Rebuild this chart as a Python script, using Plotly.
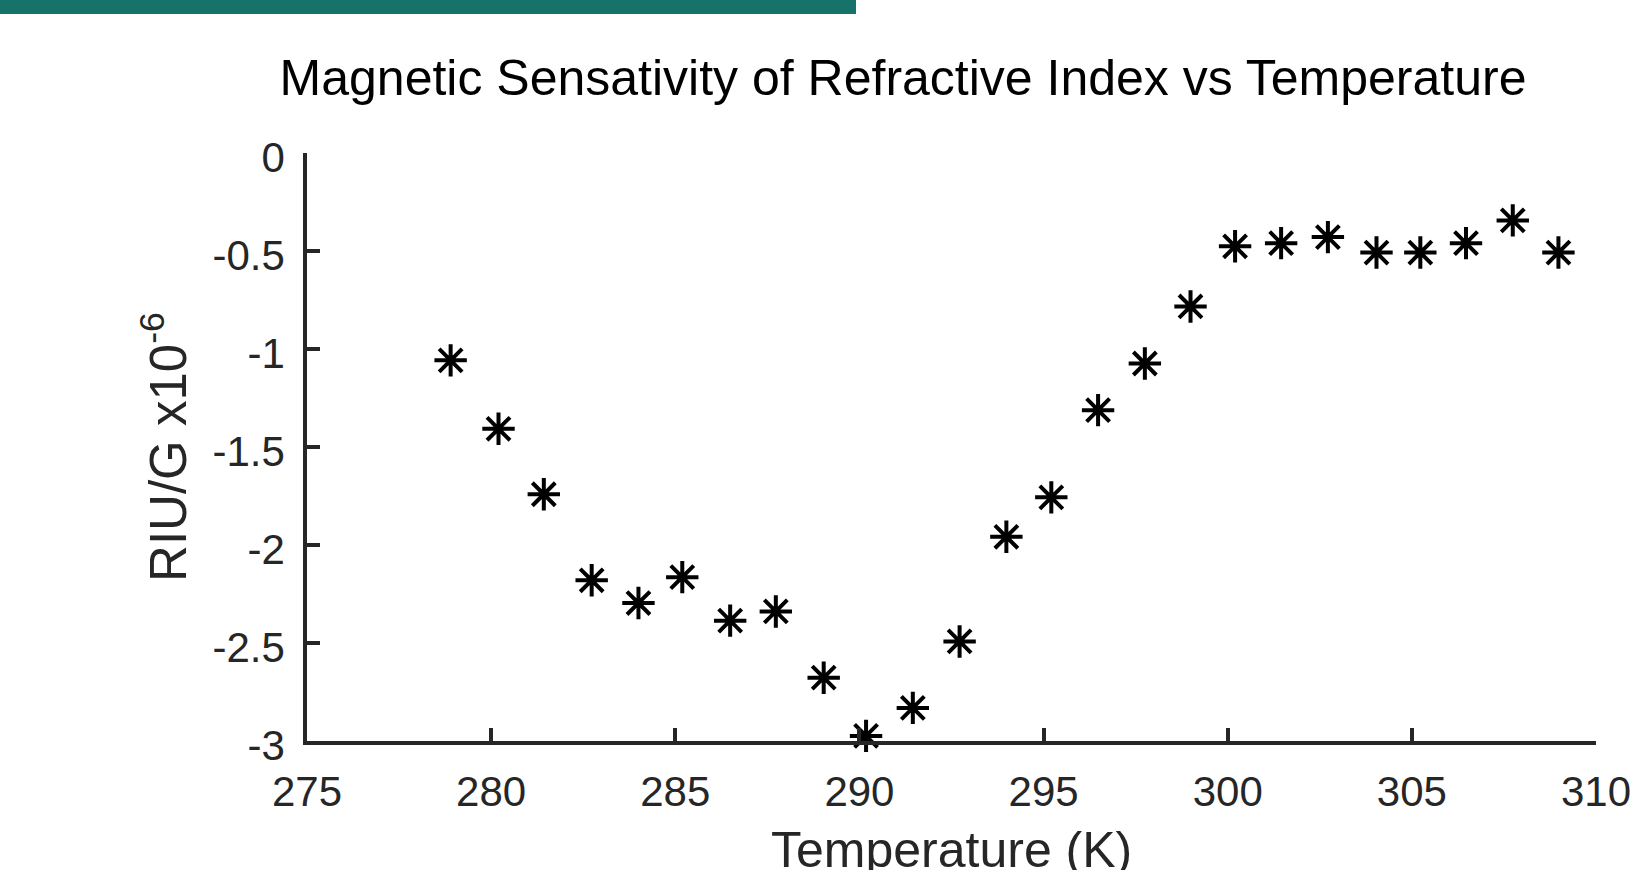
import plotly.graph_objects as go

# Data
temperature_K = [278.9, 280.2, 281.43, 282.73, 284.0, 285.19, 286.49, 287.73, 289.03, 290.18,
                 291.45, 292.72, 293.99, 295.21, 296.48, 297.75, 298.99, 300.2, 301.45, 302.72,
                 304.04, 305.23, 306.47, 307.74, 308.98]
sensitivity = [-1.058, -1.407, -1.741, -2.18, -2.296, -2.164, -2.386, -2.339, -2.677, -2.974,
               -2.831, -2.492, -1.958, -1.757, -1.312, -1.074, -0.783, -0.476, -0.460, -0.429,
               -0.508, -0.508, -0.460, -0.344, -0.508]

x_ticks = [275, 280, 285, 290, 295, 300, 305, 310]
y_ticks = [0, -0.5, -1, -1.5, -2, -2.5, -3]
y_tick_labels = ["0", "-0.5", "-1", "-1.5", "-2", "-2.5", "-3"]

title_text = "Magnetic Sensativity of Refractive Index vs Temperature"
x_title = "Temperature (K)"
y_title = "RIU/G x10<sup>-6</sup>"

FONT = "Liberation Sans, Arial, Helvetica, sans-serif"
AX = "#262626"

W, H = 1633, 870
L, R, T, B = 307, 37, 153, 129

fig = go.Figure()
fig.add_trace(go.Scatter(
    x=temperature_K, y=sensitivity, mode="markers",
    marker=dict(symbol="asterisk-open", size=27, color="black",
                line=dict(color="black", width=4)),
    cliponaxis=False, showlegend=False, hoverinfo="x+y",
))

pw = W - L - R
ph = H - T - B
fig.add_shape(type="rect", xref="paper", yref="paper",
              x0=(0 - L) / pw, x1=(856 - L) / pw,
              y0=(H - B - 14) / ph, y1=(H - B + 2) / ph,
              fillcolor="#16736A", line=dict(width=0), layer="above")

# x-axis title as an annotation so it can sit partly below the page edge, as in the reference
fig.add_annotation(text=x_title, xref="paper", yref="paper", x=0.5, y=-(820 - (H - B)) / ph,
                   xanchor="center", yanchor="top", showarrow=False,
                   font=dict(family=FONT, size=50, color=AX))

fig.update_layout(
    width=W, height=H,
    margin=dict(l=L, r=R, t=T, b=B, autoexpand=False),
    paper_bgcolor="white", plot_bgcolor="white",
    font=dict(family=FONT, color=AX),
    title=dict(text=title_text, font=dict(family=FONT, size=50, color="black"),
               x=903 / W, xanchor="center", xref="container",
               y=1 - 77 / H, yanchor="middle", yref="container"),
    xaxis=dict(range=[275, 310], tickvals=x_ticks, ticktext=[str(v) for v in x_ticks],
               showgrid=False, zeroline=False, showline=True, linecolor=AX, linewidth=3.5,
               ticks="inside", ticklen=13, tickwidth=3.5, tickcolor=AX,
               tickfont=dict(family=FONT, size=42, color=AX),
               ticklabelstandoff=11,
               automargin=False),
    yaxis=dict(range=[-3, 0], tickvals=y_ticks, ticktext=y_tick_labels,
               showgrid=False, zeroline=False, showline=True, linecolor=AX, linewidth=3.5,
               ticks="inside", ticklen=13, tickwidth=3.5, tickcolor=AX,
               tickfont=dict(family=FONT, size=42, color=AX),
               ticklabelstandoff=10, ticklabelshift=4,
               title=dict(text=y_title, font=dict(family=FONT, size=51, color=AX), standoff=11),
               automargin=False),
)

fig.write_html("out.html", config={"displayModeBar": False},
               post_script="document.body.style.margin='0';document.body.style.overflow='hidden';")
